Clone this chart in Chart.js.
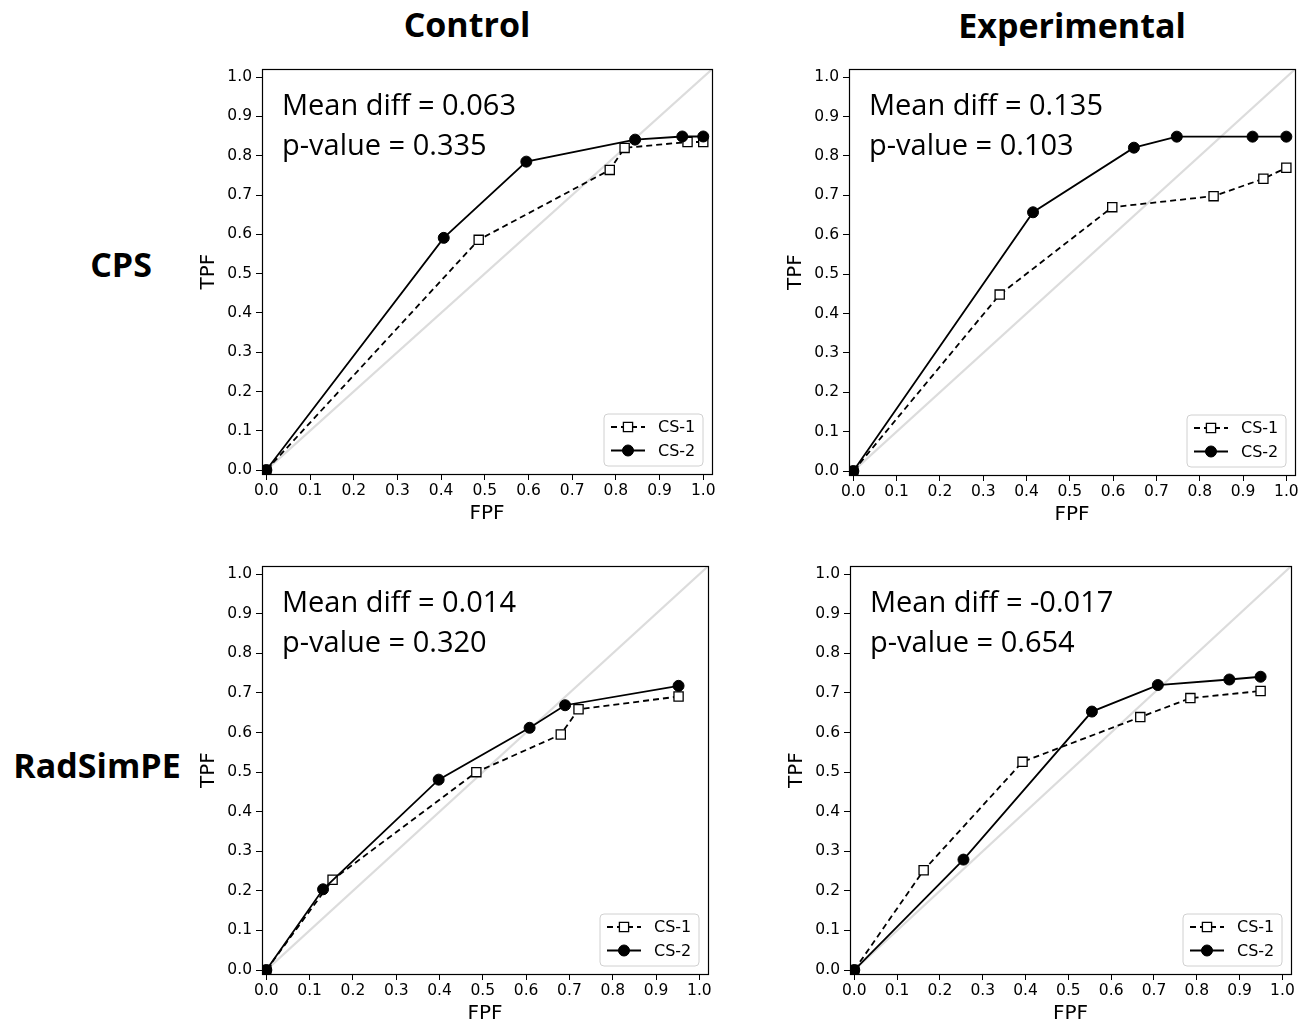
<!DOCTYPE html>
<html>
<head>
<meta charset="utf-8">
<script src="https://cdn.jsdelivr.net/npm/chart.js@4.4.1/dist/chart.umd.min.js"></script>
<style>
  body { margin: 0; background: #fff; }
  #page { position: relative; width: 1315px; height: 1022px; overflow: hidden; background: #fff; }
  .head { position: absolute; font-family: "Open Sans", sans-serif; font-weight: 700; font-size: 34px;
          line-height: 34px; color: #000; white-space: nowrap; transform: translateX(-50%); }
  canvas { position: absolute; }
</style>
</head>
<body>
<div id="page">
  <div class="head" id="col0" style="left:467px; top:7px;"></div>
  <div class="head" id="col1" style="left:1072px; top:8px;"></div>
  <div class="head" id="row0" style="left:121px; top:247px;"></div>
  <div class="head" id="row1" style="left:97px; top:748px;"></div>
  <canvas id="c0"></canvas>
  <canvas id="c1"></canvas>
  <canvas id="c2"></canvas>
  <canvas id="c3"></canvas>
</div>
<script>
// labels
var columnTitles = ['Control', 'Experimental'];
var rowTitles = ['CPS', 'RadSimPE'];
var seriesNames = ['CS-1', 'CS-2'];
var tickValues = [0, 0.1, 0.2, 0.3, 0.4, 0.5, 0.6, 0.7, 0.8, 0.9, 1.0];
var tickLabels = ['0.0', '0.1', '0.2', '0.3', '0.4', '0.5', '0.6', '0.7', '0.8', '0.9', '1.0'];
var axisLimits = [-0.01, 1.02];

// Control / CPS
var ctrlCpsFpf1 = [0, 0.486, 0.786, 0.820, 0.964, 1.000];
var ctrlCpsTpf1 = [0, 0.586, 0.764, 0.820, 0.835, 0.835];
var ctrlCpsFpf2 = [0, 0.406, 0.595, 0.844, 0.952, 1.000];
var ctrlCpsTpf2 = [0, 0.591, 0.785, 0.841, 0.849, 0.849];

// Experimental / CPS
var expCpsFpf1 = [0, 0.338, 0.598, 0.832, 0.947, 1.000];
var expCpsTpf1 = [0, 0.448, 0.670, 0.698, 0.742, 0.770];
var expCpsFpf2 = [0, 0.415, 0.648, 0.747, 0.922, 1.000];
var expCpsTpf2 = [0, 0.657, 0.821, 0.849, 0.849, 0.849];

// Control / RadSimPE
var ctrlRadFpf1 = [0, 0.153, 0.485, 0.680, 0.721, 0.952];
var ctrlRadTpf1 = [0, 0.228, 0.500, 0.595, 0.659, 0.691];
var ctrlRadFpf2 = [0, 0.131, 0.398, 0.608, 0.690, 0.952];
var ctrlRadTpf2 = [0, 0.204, 0.481, 0.612, 0.669, 0.718];

// Experimental / RadSimPE
var expRadFpf1 = [0, 0.162, 0.393, 0.668, 0.785, 0.949];
var expRadTpf1 = [0, 0.252, 0.526, 0.639, 0.687, 0.705];
var expRadFpf2 = [0, 0.255, 0.555, 0.709, 0.876, 0.949];
var expRadTpf2 = [0, 0.279, 0.653, 0.720, 0.734, 0.741];

var meanDiffs = ['0.063', '0.135', '0.014', '-0.017'];
var pValues = ['0.335', '0.103', '0.320', '0.654'];

document.getElementById('col0').textContent = columnTitles[0];
document.getElementById('col1').textContent = columnTitles[1];
document.getElementById('row0').textContent = rowTitles[0];
document.getElementById('row1').textContent = rowTitles[1];

function zip(xs, ys) {
  return xs.map(function (x, i) { return {x: x, y: ys[i]}; });
}

// plot area boxes [left, top, width, height]
var panels = [
  {box: [262, 68, 450, 406], s1: [ctrlCpsFpf1, ctrlCpsTpf1], s2: [ctrlCpsFpf2, ctrlCpsTpf2]},
  {box: [849, 68, 446, 407], s1: [expCpsFpf1, expCpsTpf1], s2: [expCpsFpf2, expCpsTpf2]},
  {box: [262, 565, 446, 409], s1: [ctrlRadFpf1, ctrlRadTpf1], s2: [ctrlRadFpf2, ctrlRadTpf2]},
  {box: [850, 565, 441, 409], s1: [expRadFpf1, expRadTpf1], s2: [expRadFpf2, expRadTpf2]}
];

var YW = 70, XH = 60, PT = 12, PR = 12;
var tickFont = {family: 'DejaVu Sans', size: 15.5};
var titleFont = {family: 'DejaVu Sans', size: 20};

var frame = {
  id: 'frame',
  afterDatasetsDraw: function (chart, args, opts) {
    var a = chart.chartArea, ctx = chart.ctx;
    ctx.save();
    // stats text
    ctx.fillStyle = '#000';
    ctx.font = '29px "Open Sans"';
    ctx.textBaseline = 'alphabetic';
    ctx.fillText('Mean diff = ' + meanDiffs[opts.idx], a.left + 20, a.top + 46);
    ctx.fillText('p-value = ' + pValues[opts.idx], a.left + 20, a.top + 86);

    // legend
    var bw = 99, bh = 52;
    var bx = a.right - 9 - bw, by = a.bottom - 8 - bh;
    ctx.beginPath();
    ctx.roundRect(bx, by, bw, bh, 4);
    ctx.fillStyle = 'rgba(255,255,255,0.85)';
    ctx.fill();
    ctx.strokeStyle = '#d0d0d0';
    ctx.lineWidth = 1;
    ctx.stroke();
    seriesNames.forEach(function (name, i) {
      var ds = chart.data.datasets.filter(function (d) { return d.label === name; })[0];
      var y = by + 13 + i * 23.5;
      ctx.beginPath();
      ctx.setLineDash(ds.borderDash || []);
      ctx.lineWidth = ds.borderWidth;
      ctx.strokeStyle = ds.borderColor;
      ctx.moveTo(bx + 7, y);
      ctx.lineTo(bx + 41, y);
      ctx.stroke();
      ctx.setLineDash([]);
      ctx.fillStyle = ds.pointBackgroundColor;
      ctx.strokeStyle = ds.pointBorderColor;
      ctx.lineWidth = ds.pointBorderWidth;
      Chart.helpers.drawPoint(ctx, {pointStyle: ds.pointStyle, radius: ds.pointRadius, rotation: 0, borderWidth: ds.pointBorderWidth}, bx + 24, y);
      ctx.fillStyle = '#000';
      ctx.font = '16px "DejaVu Sans"';
      ctx.textBaseline = 'middle';
      ctx.fillText(name, bx + 54, y + 1);
    });
    ctx.restore();
  },
  afterDraw: function (chart) {
    var a = chart.chartArea, ctx = chart.ctx;
    ctx.save();
    ctx.strokeStyle = '#000';
    ctx.lineWidth = 1.2;
    ctx.strokeRect(Math.round(a.left) + 0.5, Math.round(a.top) + 0.5,
      Math.round(a.right - a.left), Math.round(a.bottom - a.top));
    ctx.restore();
  }
};

function setTicks(scale) {
  scale.ticks = tickValues.map(function (v) { return {value: v}; });
}

function axis(title, isX) {
  return {
    type: 'linear',
    min: axisLimits[0],
    max: axisLimits[1],
    afterBuildTicks: setTicks,
    afterFit: function (s) { if (isX) s.height = XH; else s.width = YW; },
    ticks: {
      font: tickFont, color: '#000', padding: isX ? 2 : 4, maxRotation: 0,
      callback: function (v, i) { return tickLabels[i]; }
    },
    grid: {drawOnChartArea: false, drawTicks: true, tickLength: 6, color: '#000', lineWidth: 1},
    border: {display: false},
    title: {display: true, text: title, font: titleFont, color: '#000',
      padding: isX ? {top: 0, bottom: 8} : {top: 5, bottom: 0}}
  };
}

panels.forEach(function (p, idx) {
  var cv = document.getElementById('c' + idx);
  var b = p.box;
  cv.width = b[2] + YW + PR;
  cv.height = b[3] + PT + XH;
  cv.style.left = (b[0] - YW) + 'px';
  cv.style.top = (b[1] - PT) + 'px';

  new Chart(cv.getContext('2d'), {
    type: 'scatter',
    data: {
      datasets: [{
        label: seriesNames[1],
        data: zip(p.s2[0], p.s2[1]),
        showLine: true,
        borderColor: '#000',
        borderWidth: 1.8,
        pointStyle: 'circle',
        pointRadius: 5.5,
        pointBackgroundColor: '#000',
        pointBorderColor: '#000',
        pointBorderWidth: 1,
        order: 0
      }, {
        label: seriesNames[0],
        data: zip(p.s1[0], p.s1[1]),
        showLine: true,
        borderColor: '#000',
        borderWidth: 1.8,
        borderDash: [6, 4],
        pointStyle: 'rect',
        pointRadius: 6.5,
        pointBackgroundColor: '#fff',
        pointBorderColor: '#000',
        pointBorderWidth: 1.3,
        order: 1
      }, {
        label: 'chance',
        data: zip(axisLimits, axisLimits),
        showLine: true,
        borderColor: '#dcdcdc',
        borderWidth: 2.2,
        pointRadius: 0,
        order: 2
      }]
    },
    options: {
      responsive: false,
      animation: false,
      layout: {padding: {top: PT, right: PR, left: 0, bottom: 0}},
      plugins: {legend: {display: false}, tooltip: {enabled: false}, frame: {idx: idx}},
      scales: {x: axis('FPF', true), y: axis('TPF', false)}
    },
    plugins: [frame]
  });
});
</script>
</body>
</html>
